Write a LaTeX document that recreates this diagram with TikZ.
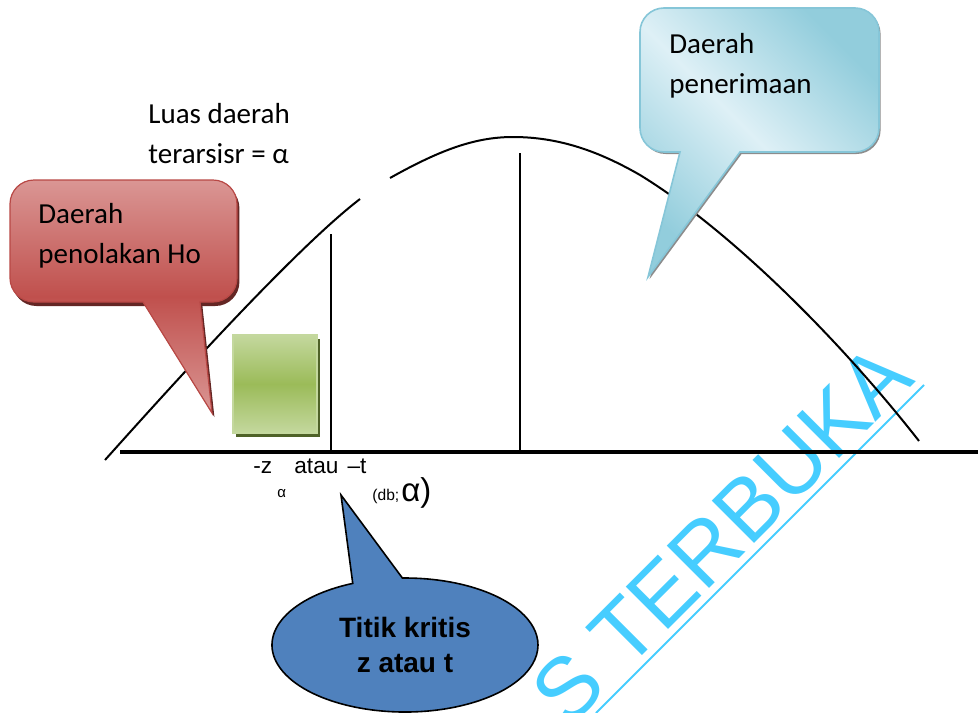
\documentclass[tikz,border=0pt]{standalone}
\usepackage{fontspec}
\setmainfont{Carlito}
\newfontfamily\arialfont{Liberation Sans}
\usetikzlibrary{shapes.callouts,shadows}

\definecolor{redlight}{RGB}{218,150,148}
\definecolor{redmid}{RGB}{192,80,77}
\definecolor{redline}{RGB}{184,72,69}
\definecolor{redshadow}{RGB}{100,38,36}
\definecolor{bluelight}{RGB}{222,240,246}
\definecolor{bluedark}{RGB}{146,205,220}
\definecolor{blueline}{RGB}{134,198,216}
\definecolor{greenlight}{RGB}{196,216,158}
\definecolor{greenmid}{RGB}{155,187,89}
\definecolor{greenshadow}{RGB}{79,98,40}
\definecolor{critblue}{RGB}{79,129,189}
\definecolor{wmcyan}{RGB}{70,205,255}

\begin{document}
\begin{tikzpicture}[x=0.5pt,y=-0.5pt]

\tikzstyle{callred}=[draw=redline,line width=0.6pt,top color=redlight,bottom color=redlight,middle color=redmid,drop shadow={shadow xshift=1.2pt,shadow yshift=-2pt,fill=redshadow,opacity=1}]
\tikzstyle{callblue}=[draw=blueline,line width=0.8pt,top color=bluedark,bottom color=bluedark,middle color=bluelight,shading angle=-45,drop shadow={shadow xshift=0.8pt,shadow yshift=-1pt,fill=black!45,opacity=1}]
\tikzstyle{greenbox}=[rectangle,draw=greenlight,line width=0.8pt,top color=greenlight,bottom color=greenlight,middle color=greenmid,minimum width=42pt,minimum height=49pt,drop shadow={shadow xshift=1.5pt,shadow yshift=-2pt,fill=greenshadow,opacity=1}]
\tikzstyle{critcall}=[ellipse callout,draw=black,line width=0.8pt,fill=critblue,minimum width=133pt,minimum height=67pt,callout pointer arc=22,align=center,font=\arialfont\bfseries\fontsize{14}{17.5}\selectfont]
\tikzstyle{lbl}=[align=left,inner sep=0pt,font=\fontsize{14.5}{20}\selectfont]
\tikzstyle{axlbl}=[inner sep=0pt,anchor=base west]
\tikzstyle{curve}=[line width=1pt]
\tikzstyle{watermark}=[inner sep=0pt,text=wmcyan,font=\arialfont\fontsize{43.5}{43.5}\selectfont]

\useasboundingbox (0,0) rectangle (978,712);
\clip (0,0) rectangle (978,712);

\node[watermark,rotate=45,anchor=base east] (wm) at (917,381) {S TERBUKA};
\draw[wmcyan,line width=1pt] (596,713) -- (924,385);

\draw[curve] (105,460) .. controls (190,365) and (300,245) .. (360,199);
\draw[curve] (390,178) .. controls (440,150) and (475,137) .. (513,137) .. controls (560,137) and (600,152) .. (640,175) .. controls (730,230) and (840,340) .. (919,441);
\draw[line width=1.6pt] (120,452) -- (978,452);
\draw[curve] (331,234) -- (331,452);
\draw[curve] (520,153) -- (520,452);

\node[greenbox] (area) at (275,384) {};

\path[callred,rounded corners=12pt] (143,302) -- (10,302) -- (10,180) -- (237,180) -- (237,302) [sharp corners] -- (200,302) -- (212,413) -- cycle;
\path[callblue,rounded corners=12pt] (740,152) -- (879,152) -- (879,8) -- (640,8) -- (640,152) [sharp corners] -- (680,152) -- (648,277) -- cycle;

\node[lbl,anchor=base west] (luas) at (148,163) {Luas daerah\\terarsisr = α};
\node[lbl,anchor=base west] (tolak) at (38,263) {Daerah\\penolakan Ho};
\node[lbl,anchor=base west] (terima) at (669,93) {Daerah\\penerimaan};

\node[axlbl,font=\arialfont\fontsize{11.3}{13}\selectfont] (zneg) at (253,473) {-z};
\node[axlbl,font=\arialfont\fontsize{7.5}{8}\selectfont] (zsub) at (277,497) {α};
\node[axlbl,font=\arialfont\fontsize{11.3}{13}\selectfont] (tneg) at (294,473) {atau\hspace{1.5pt} –t};
\node[axlbl,font=\arialfont\fontsize{7.8}{9}\selectfont] (tsub) at (372,500) {(db;};
\node[axlbl,font=\arialfont\fontsize{16.5}{18}\selectfont] (tsub2) at (401,501) {α)};

\node[critcall,callout absolute pointer={(341,495)}] (kritis) at (405,645) {Titik kritis\\z atau t};
\end{tikzpicture}
\end{document}
